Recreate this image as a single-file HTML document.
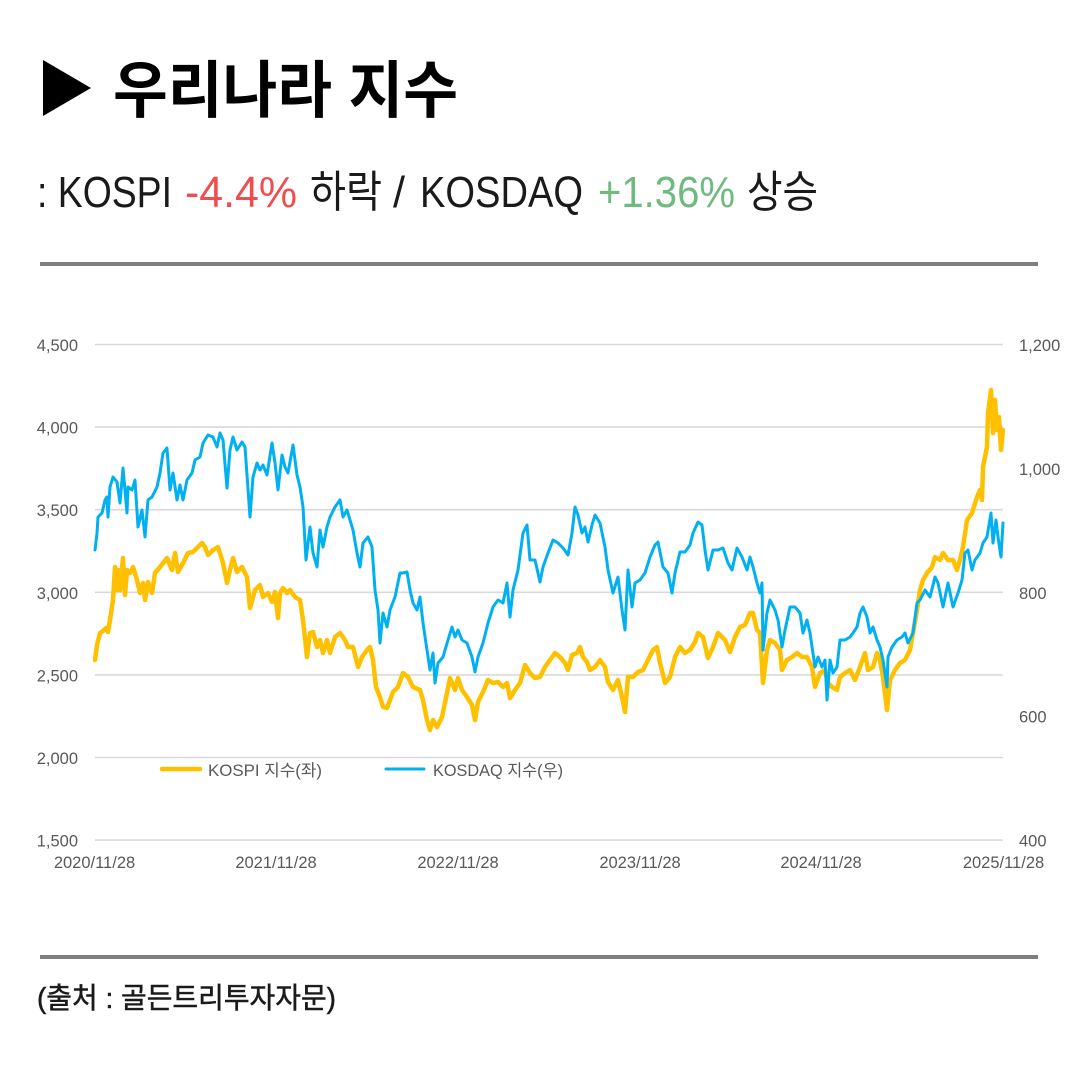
<!DOCTYPE html>
<html>
<head>
<meta charset="utf-8">
<style>
  html,body{margin:0;padding:0;background:#fff;}
  body{width:1080px;height:1080px;overflow:hidden;}
  svg{display:block;}
  .cjk{font-family:"Liberation Sans","Noto Sans CJK KR",sans-serif;}
  .ax{font-family:"Liberation Sans","Noto Sans CJK KR",sans-serif;font-size:16.5px;fill:#595959;}
</style>
</head>
<body>
<svg width="1080" height="1080" viewBox="0 0 1080 1080" xmlns="http://www.w3.org/2000/svg">
  <rect x="0" y="0" width="1080" height="1080" fill="#fff"/>
  <!-- Title -->
  <polygon points="43,60 91,88 43,116" fill="#000"/>
  <text x="113" y="112" class="cjk" font-size="62" font-weight="700" fill="#000" textLength="345" lengthAdjust="spacingAndGlyphs">우리나라 지수</text>

  <!-- Subtitle -->
  <g class="cjk" font-size="44" fill="#1a1a1a">
    <text x="37" y="207" textLength="135" lengthAdjust="spacingAndGlyphs">: KOSPI</text>
    <text x="185" y="207" textLength="112" lengthAdjust="spacingAndGlyphs" fill="#F04E4E">-4.4%</text>
    <text x="310" y="207" textLength="72" lengthAdjust="spacingAndGlyphs">하락</text>
    <text x="393" y="207" textLength="12" lengthAdjust="spacingAndGlyphs">/</text>
    <text x="420" y="207" textLength="163" lengthAdjust="spacingAndGlyphs">KOSDAQ</text>
    <text x="598" y="207" textLength="137" lengthAdjust="spacingAndGlyphs" fill="#6DBB7E">+1.36%</text>
    <text x="747" y="207" textLength="71" lengthAdjust="spacingAndGlyphs">상승</text>
  </g>

  <!-- Rules -->
  <rect x="40" y="262" width="998" height="4" fill="#7f7f7f"/>
  <rect x="40" y="955" width="998" height="4" fill="#7f7f7f"/>

  <!-- Grid -->
  <g stroke="#d9d9d9" stroke-width="1.6">
    <line x1="95" y1="344.5" x2="1003" y2="344.5"/>
    <line x1="95" y1="427.1" x2="1003" y2="427.1"/>
    <line x1="95" y1="509.7" x2="1003" y2="509.7"/>
    <line x1="95" y1="592.3" x2="1003" y2="592.3"/>
    <line x1="95" y1="674.9" x2="1003" y2="674.9"/>
    <line x1="95" y1="757.5" x2="1003" y2="757.5"/>
    <line x1="95" y1="840.1" x2="1003" y2="840.1"/>
  </g>

  <!-- Left axis -->
  <g class="ax" text-anchor="end">
    <text x="78" y="351">4,500</text>
    <text x="78" y="433.6">4,000</text>
    <text x="78" y="516.2">3,500</text>
    <text x="78" y="598.8">3,000</text>
    <text x="78" y="681.4">2,500</text>
    <text x="78" y="764">2,000</text>
    <text x="78" y="846.6">1,500</text>
  </g>
  <!-- Right axis -->
  <g class="ax" text-anchor="start">
    <text x="1019" y="351">1,200</text>
    <text x="1019" y="475">1,000</text>
    <text x="1019" y="598.8">800</text>
    <text x="1019" y="722.5">600</text>
    <text x="1019" y="846.6">400</text>
  </g>
  <!-- X axis -->
  <g class="ax" text-anchor="middle">
    <text x="94.5" y="868">2020/11/28</text>
    <text x="276" y="868">2021/11/28</text>
    <text x="458" y="868">2022/11/28</text>
    <text x="640" y="868">2023/11/28</text>
    <text x="821" y="868">2024/11/28</text>
    <text x="1003.5" y="868">2025/11/28</text>
  </g>

  <!-- Legend -->
  <line x1="162" y1="769" x2="200" y2="769" stroke="#FFC000" stroke-width="4.5" stroke-linecap="round"/>
  <text x="208" y="776" class="ax" font-size="16" textLength="114" lengthAdjust="spacingAndGlyphs">KOSPI 지수(좌)</text>
  <line x1="386" y1="769" x2="424" y2="769" stroke="#00B0F0" stroke-width="3" stroke-linecap="round"/>
  <text x="433" y="776" class="ax" font-size="16" textLength="130" lengthAdjust="spacingAndGlyphs">KOSDAQ 지수(우)</text>

  <!-- KOSPI -->
  <polyline fill="none" stroke="#FFC000" stroke-width="4.5" stroke-linejoin="round" stroke-linecap="round" points="95,660 97,645 100,633 103,631 106,628 108,632 110,620 113,600 115,567 117,590 118,570 120,590 123,558 125,595 127,570 130,573 133,567 137,580 140,593 143,583 145,600 148,582 152,593 155,573 160,567 167,558 172,570 175,553 178,572 183,563 188,553 193,552 197,548 202,543 205,547 208,555 213,550 218,547 223,563 227,583 230,570 233,558 237,572 242,567 247,577 250,608 255,590 260,585 263,597 268,593 272,602 275,592 278,618 280,593 283,588 287,593 290,590 295,597 300,600 303,620 307,657 310,633 313,632 317,647 320,640 323,653 327,640 330,653 335,637 340,633 345,640 348,647 353,647 358,667 362,657 367,650 370,647 373,660 376,687 380,697 383,707 387,708 390,700 393,692 398,687 403,673 408,677 413,687 420,690 423,700 427,720 430,730 433,720 437,727 442,717 447,693 450,678 455,690 458,678 462,690 467,697 472,705 475,720 478,702 483,692 488,680 493,683 498,682 503,687 507,683 510,698 515,690 520,683 525,665 530,673 535,678 540,677 545,667 550,660 555,653 560,657 565,663 568,670 572,655 577,653 580,647 583,657 587,662 590,670 595,667 600,660 605,667 608,682 613,690 618,680 622,697 625,712 628,677 633,677 638,672 643,670 648,660 653,650 657,647 660,663 665,683 670,677 675,657 680,647 685,653 690,650 695,642 698,633 703,637 708,658 713,647 718,633 720,635 725,640 730,652 735,637 740,627 745,625 750,613 753,613 757,630 760,633 763,683 767,650 770,640 775,643 780,650 782,670 787,660 792,657 797,653 802,657 807,657 812,667 815,687 820,673 825,670 828,683 832,687 837,690 840,677 845,673 850,670 855,680 860,667 865,653 868,670 873,667 877,653 880,660 883,677 887,710 890,680 895,670 900,663 905,660 910,650 913,633 917,610 920,590 923,580 927,573 932,567 935,557 940,560 943,553 948,560 953,560 957,570 960,560 963,547 967,520 972,513 977,497 980,490 982,500 983,467 987,447 988,413 991,390 993,433 995,400 997,430 999,417 1001,450 1003,430"/>

  <!-- KOSDAQ -->
  <polyline fill="none" stroke="#00B0F0" stroke-width="3" stroke-linejoin="round" stroke-linecap="round" points="95,550 97,533 98,517 102,513 105,500 107,497 108,517 110,487 113,477 117,482 120,503 123,468 127,513 128,487 132,490 135,480 138,527 142,510 145,537 148,500 152,497 157,487 160,473 163,453 167,448 170,490 173,473 177,500 180,485 183,500 187,480 192,473 195,460 200,457 203,443 208,435 213,437 217,447 220,433 223,440 227,488 230,450 233,437 237,450 242,442 245,447 250,517 253,477 257,463 260,470 263,465 267,475 272,443 275,463 278,490 282,455 285,467 288,473 293,445 297,475 300,487 303,507 306,560 310,527 313,553 317,567 320,530 323,547 327,527 330,517 335,507 340,500 343,517 347,510 350,520 353,530 357,553 360,567 363,543 368,537 372,547 375,590 378,610 380,643 383,613 387,627 390,610 395,597 400,573 403,573 407,572 410,590 413,603 417,610 420,597 423,623 427,650 430,670 433,653 435,683 438,663 443,657 448,640 452,627 455,637 458,630 462,640 467,643 472,657 475,672 478,657 483,643 488,623 493,607 498,600 503,603 507,583 510,617 513,590 518,570 523,533 527,525 530,560 535,560 540,582 543,567 548,553 553,540 558,543 563,548 568,555 572,533 575,507 578,515 582,533 585,527 588,542 592,525 595,515 600,523 605,547 608,570 613,593 618,577 622,610 625,630 628,570 632,607 635,583 640,580 645,573 650,557 655,545 658,542 663,567 668,573 672,593 675,573 680,552 685,552 690,545 693,533 698,522 702,525 705,550 708,570 713,550 718,550 723,548 728,563 732,570 737,548 742,557 747,570 750,557 753,567 757,583 760,593 762,583 763,650 767,613 770,600 775,610 778,620 782,647 785,630 790,607 795,607 800,613 803,633 807,620 810,633 815,667 818,657 822,667 825,660 827,700 830,660 833,673 837,667 840,640 845,640 850,637 853,633 857,627 860,613 863,607 867,617 870,633 873,627 877,640 880,647 883,660 887,687 888,657 892,647 897,640 902,637 905,633 908,643 913,633 917,603 920,600 925,590 930,597 935,577 938,583 943,607 948,583 953,607 958,593 962,580 965,553 968,550 972,570 975,560 980,553 983,543 987,537 991,513 993,543 996,520 998,537 1001,557 1003,523"/>

  <!-- Source -->
  <text x="37" y="1008" class="cjk" font-size="29" font-weight="400" fill="#1a1a1a" stroke="#1a1a1a" stroke-width="0.5" textLength="299" lengthAdjust="spacingAndGlyphs">(출처 : 골든트리투자자문)</text>
</svg>
</body>
</html>
